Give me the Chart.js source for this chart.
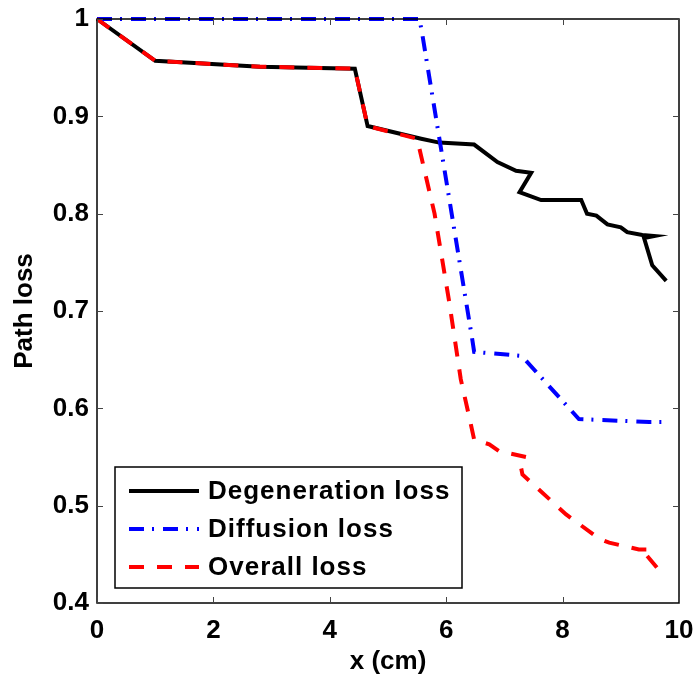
<!DOCTYPE html>
<html>
<head>
<meta charset="utf-8">
<script src="https://cdn.jsdelivr.net/npm/chart.js@4.4.1/dist/chart.umd.min.js"></script>
<style>
  html, body { margin: 0; padding: 0; background: #fff; }
  #wrap { width: 695px; height: 679px; }
</style>
</head>
<body>
<div id="wrap"><canvas id="myChart" width="695" height="679"></canvas></div>
<script>
// values
const degX = [0, 1.0, 2.8, 4.43, 4.65, 5.57, 5.88, 6.48, 6.88, 7.2, 7.46, 7.26, 7.63, 8.32, 8.42, 8.58, 8.77, 9.0, 9.11, 9.37, 9.57, 9.4, 9.54, 9.78];
const degY = [1.0, 0.957, 0.951, 0.949, 0.89, 0.877, 0.873, 0.871, 0.853, 0.844, 0.842, 0.822, 0.814, 0.814, 0.8, 0.798, 0.789, 0.786, 0.781, 0.778, 0.777, 0.775, 0.747, 0.731];

const difX = [0, 5.54, 5.59, 6.45, 6.48, 7.28, 7.37, 8.28, 9.49, 9.71];
const difY = [1.0, 1.0, 0.984, 0.67, 0.658, 0.654, 0.649, 0.589, 0.586, 0.586];

const allX = [0, 1.0, 2.8, 4.43, 4.65, 5.5, 5.8, 6.05, 6.25, 6.4, 6.48, 6.74, 6.91, 7.37, 7.28, 7.31, 8.06, 8.63, 8.8, 9.09, 9.31, 9.51, 9.43, 9.74];
const allY = [1.0, 0.957, 0.951, 0.949, 0.89, 0.877, 0.8, 0.71, 0.63, 0.59, 0.568, 0.563, 0.556, 0.55, 0.541, 0.532, 0.491, 0.466, 0.462, 0.458, 0.455, 0.455, 0.45, 0.428];

const xTicks = [0, 2, 4, 6, 8, 10];
const yTicks = [0.4, 0.5, 0.6, 0.7, 0.8, 0.9, 1];
const seriesNames = ["Degeneration loss", "Diffusion loss", "Overall loss"];

const pts = (xs, ys) => xs.map((x, i) => ({ x: x, y: ys[i] }));
const FONT = { family: "Arial, 'Liberation Sans', sans-serif", size: 26, weight: "bold" };

// matlab-ish box, inward ticks and a legend inside the axes
const boxPlugin = {
  id: "box",
  beforeInit(chart) {
    // the reference text runs a bit wider than Arial
    chart.ctx.letterSpacing = "1px";
  },
  afterDraw(chart) {
    const ctx = chart.ctx;
    const a = chart.chartArea;
    const xs = chart.scales.x, ys = chart.scales.y;
    ctx.save();
    ctx.strokeStyle = "#000";
    ctx.lineWidth = 1.5;
    ctx.strokeRect(a.left, a.top, a.right - a.left, a.bottom - a.top);
    ctx.strokeStyle = "#444";
    ctx.lineWidth = 1;
    ctx.beginPath();
    xTicks.forEach(v => {
      const p = Math.round(xs.getPixelForValue(v)) + 0.5;
      ctx.moveTo(p, a.bottom); ctx.lineTo(p, a.bottom - 6);
      ctx.moveTo(p, a.top); ctx.lineTo(p, a.top + 6);
    });
    yTicks.forEach(v => {
      const p = Math.round(ys.getPixelForValue(v)) + 0.5;
      ctx.moveTo(a.left, p); ctx.lineTo(a.left + 6, p);
      ctx.moveTo(a.right, p); ctx.lineTo(a.right - 6, p);
    });
    ctx.stroke();

    // legend
    const lx = 115, ly = 467, lw = 347, lh = 121;
    ctx.fillStyle = "#fff";
    ctx.fillRect(lx, ly, lw, lh);
    ctx.strokeStyle = "#000";
    ctx.lineWidth = 1.5;
    ctx.strokeRect(lx, ly, lw, lh);
    ctx.font = "bold 26px Arial, 'Liberation Sans', sans-serif";
    ctx.letterSpacing = "1px";
    ctx.textBaseline = "middle";
    ctx.textAlign = "left";
    const rows = [491, 529, 567];
    seriesNames.forEach((name, i) => {
      const ds = chart.data.datasets.find(d => d.label === name);
      ctx.strokeStyle = ds.borderColor;
      ctx.lineWidth = ds.borderWidth;
      ctx.setLineDash(ds.borderDash || []);
      ctx.beginPath();
      ctx.moveTo(129, rows[i]);
      ctx.lineTo(199, rows[i]);
      ctx.stroke();
      ctx.setLineDash([]);
      ctx.fillStyle = "#000";
      ctx.fillText(name, 208, rows[i] + 1);
    });
    ctx.restore();
  }
};

const ctx = document.getElementById("myChart").getContext("2d");
new Chart(ctx, {
  type: "scatter",
  data: {
    datasets: [
      {
        label: seriesNames[0],
        data: pts(degX, degY),
        borderColor: "#000",
        borderWidth: 4,
        order: 2,
      },
      {
        label: seriesNames[1],
        data: pts(difX, difY),
        borderColor: "#0000ff",
        borderWidth: 4,
        borderDash: [15, 8, 2, 9],
        order: 1,
      },
      {
        label: seriesNames[2],
        data: pts(allX, allY),
        borderColor: "#ff0000",
        borderWidth: 4,
        borderDash: [15, 13],
        order: 0,
      },
    ].map(d => Object.assign({ showLine: true, pointRadius: 0, tension: 0, clip: false, fill: false }, d)),
  },
  plugins: [boxPlugin],
  options: {
    responsive: false,
    animation: false,
    layout: { padding: { top: 19, right: 16, left: 0, bottom: 0 } },
    plugins: { legend: { display: false }, tooltip: { enabled: false } },
    scales: {
      x: {
        type: "linear",
        min: 0,
        max: 10,
        afterFit: s => { s.height = 76; s.paddingLeft = 0; s.paddingRight = 0; },
        afterBuildTicks: s => { s.ticks = xTicks.map(v => ({ value: v })); },
        grid: { display: false, drawTicks: false },
        border: { display: false },
        ticks: { color: "#000", font: FONT, padding: 12, maxRotation: 0, callback: v => String(v) },
        title: { display: true, text: "x (cm)", color: "#000", font: FONT, padding: { top: 0, bottom: 2 } },
      },
      y: {
        type: "linear",
        min: 0.4,
        max: 1,
        afterFit: s => { s.width = 97; s.paddingTop = 0; s.paddingBottom = 0; },
        afterBuildTicks: s => { s.ticks = yTicks.map(v => ({ value: v })); },
        grid: { display: false, drawTicks: false },
        border: { display: false },
        ticks: { color: "#000", font: FONT, padding: 8, callback: v => (v === 1 ? "1" : v.toFixed(1)) },
        title: { display: true, text: "Path loss", color: "#000", font: FONT, padding: { top: 9, bottom: 0 } },
      },
    },
  },
});
</script>
</body>
</html>
